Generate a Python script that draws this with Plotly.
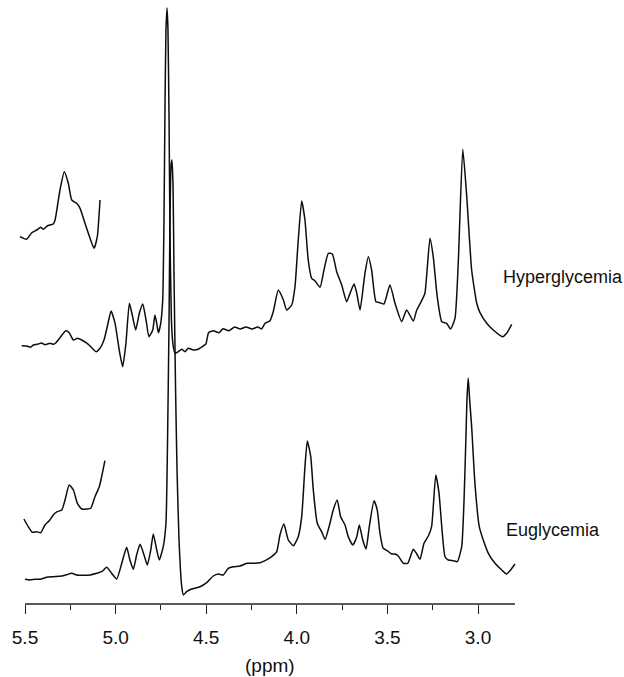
import plotly.graph_objects as go

# ---------------- data (chemical shift in ppm, intensity in arbitrary units) ----------------
hyper_ppm = [5.518, 5.491, 5.469, 5.454, 5.432, 5.408, 5.390, 5.362, 5.344, 5.329, 5.303, 5.275,
             5.256, 5.233, 5.211, 5.187, 5.163, 5.141, 5.108, 5.086, 5.064, 5.046, 5.025, 5.003,
             4.980, 4.961, 4.943, 4.924, 4.906, 4.889, 4.869, 4.850, 4.832, 4.816, 4.795, 4.783,
             4.773, 4.764, 4.751, 4.740, 4.733, 4.727, 4.722, 4.716, 4.711, 4.705, 4.700, 4.692,
             4.683, 4.672, 4.654, 4.635, 4.617, 4.599, 4.571, 4.544, 4.534, 4.502, 4.487, 4.460,
             4.429, 4.407, 4.375, 4.343, 4.313, 4.280, 4.247, 4.216, 4.195, 4.175, 4.148, 4.130,
             4.102, 4.074, 4.056, 4.028, 4.010, 3.992, 3.973, 3.955, 3.937, 3.918, 3.900, 3.872,
             3.850, 3.826, 3.804, 3.780, 3.752, 3.725, 3.703, 3.684, 3.669, 3.651, 3.624, 3.605,
             3.587, 3.563, 3.541, 3.519, 3.486, 3.458, 3.421, 3.394, 3.357, 3.338, 3.311, 3.293,
             3.265, 3.247, 3.225, 3.200, 3.173, 3.151, 3.127, 3.109, 3.084, 3.062, 3.035, 3.007,
             2.989, 2.952, 2.916, 2.864, 2.842, 2.814]
hyper_int = [259.3, 259.0, 257.7, 260.0, 260.7, 262.0, 260.3, 261.7, 260.7, 262.3, 268.3, 274.3,
             272.3, 265.0, 266.7, 265.0, 262.3, 259.0, 253.3, 256.7, 265.0, 278.3, 294.0, 281.7,
             255.0, 238.3, 261.7, 301.7, 288.3, 275.0, 291.7, 301.0, 285.0, 268.3, 275.0, 290.0,
             281.7, 272.3, 281.7, 305.0, 385.0, 505.0, 575.0, 597.0, 575.0, 485.0, 375.0, 285.0,
             260.0, 251.7, 253.3, 255.7, 253.3, 256.7, 255.0, 255.7, 257.0, 261.0, 272.3, 274.2,
             272.3, 276.2, 274.2, 278.0, 276.0, 278.0, 276.0, 278.0, 276.0, 281.7, 284.3, 293.3,
             315.0, 305.0, 295.0, 300.0, 318.3, 365.0, 404.0, 385.0, 345.0, 326.7, 324.3, 317.7,
             335.0, 351.7, 351.0, 333.3, 320.0, 303.3, 313.3, 321.0, 311.7, 295.0, 331.7, 348.3,
             335.0, 303.3, 302.3, 301.0, 320.0, 301.7, 283.3, 295.0, 284.0, 295.0, 304.3, 311.7,
             366.7, 348.3, 308.3, 283.3, 281.7, 276.0, 286.7, 341.7, 455.7, 408.3, 335.0, 301.7,
             292.3, 281.7, 275.0, 268.3, 271.7, 280.7]

hyper_inset_ppm = [5.528, 5.491, 5.463, 5.435, 5.413, 5.399, 5.377, 5.362, 5.344, 5.334, 5.307,
                   5.283, 5.261, 5.242, 5.215, 5.196, 5.169, 5.141, 5.119, 5.101, 5.086]
hyper_inset_int = [368.3, 365.7, 372.3, 375.0, 377.7, 375.7, 379.0, 380.0, 381.0, 385.0, 415.0,
                   433.3, 421.7, 405.0, 401.7, 396.7, 381.7, 366.7, 356.7, 368.3, 405.0]

eu_ppm = [5.500, 5.472, 5.445, 5.417, 5.380, 5.344, 5.297, 5.270, 5.242, 5.215, 5.178, 5.141,
          5.104, 5.077, 5.049, 5.022, 4.994, 4.966, 4.939, 4.921, 4.902, 4.884, 4.865, 4.843,
          4.825, 4.806, 4.792, 4.773, 4.759, 4.737, 4.722, 4.714, 4.705, 4.700, 4.694, 4.689,
          4.683, 4.678, 4.669, 4.661, 4.650, 4.635, 4.626, 4.608, 4.580, 4.534, 4.497, 4.461,
          4.433, 4.406, 4.378, 4.350, 4.313, 4.276, 4.240, 4.203, 4.175, 4.139, 4.111, 4.093,
          4.071, 4.047, 4.019, 3.992, 3.973, 3.955, 3.942, 3.923, 3.909, 3.887, 3.863, 3.844,
          3.817, 3.799, 3.777, 3.758, 3.734, 3.716, 3.691, 3.669, 3.655, 3.636, 3.618, 3.600,
          3.574, 3.556, 3.541, 3.523, 3.501, 3.476, 3.458, 3.440, 3.412, 3.388, 3.357, 3.338,
          3.320, 3.298, 3.274, 3.256, 3.233, 3.215, 3.200, 3.182, 3.164, 3.136, 3.114, 3.090,
          3.077, 3.066, 3.061, 3.054, 3.046, 3.035, 3.017, 2.993, 2.971, 2.943, 2.906, 2.869,
          2.842, 2.820, 2.796]
eu_int = [25.7, 25.0, 25.7, 25.7, 27.7, 28.3, 29.0, 30.3, 31.7, 30.0, 29.7, 30.0,
          31.7, 33.3, 37.7, 31.7, 26.0, 41.7, 57.7, 45.0, 35.7, 50.0, 60.7, 50.0,
          40.0, 55.0, 71.0, 55.0, 45.0, 58.3, 82.0, 155.0, 285.0, 385.0, 440.0, 445.0,
          420.0, 335.0, 215.0, 135.0, 65.0, 18.3, 10.0, 13.3, 16.0, 18.3, 22.3, 29.0,
          31.0, 30.0, 36.7, 38.3, 39.0, 41.7, 41.7, 42.3, 44.3, 48.3, 53.3, 70.0,
          81.0, 65.0, 59.3, 68.3, 88.3, 138.3, 164.0, 148.3, 115.0, 81.7, 73.3, 65.7,
          81.7, 95.0, 105.0, 88.3, 80.0, 68.3, 60.0, 68.3, 80.0, 65.0, 56.0, 78.3,
          104.3, 95.0, 71.7, 56.7, 54.3, 51.0, 51.0, 49.0, 41.7, 41.7, 55.7, 51.0,
          45.7, 61.7, 69.0, 78.3, 130.0, 111.7, 78.3, 48.3, 45.0, 44.3, 43.3, 58.3,
          105.0, 171.7, 205.0, 227.0, 205.0, 178.3, 121.7, 78.3, 65.0, 51.7, 41.7, 35.0,
          31.0, 35.0, 41.0]

eu_inset_ppm = [5.506, 5.482, 5.460, 5.435, 5.413, 5.390, 5.366, 5.344, 5.322, 5.297, 5.279,
                5.256, 5.233, 5.211, 5.187, 5.159, 5.137, 5.114, 5.090, 5.077, 5.059]
eu_inset_int = [86.0, 78.3, 72.7, 73.3, 72.3, 80.0, 84.3, 90.0, 93.3, 95.0, 105.0,
                120.0, 115.0, 101.7, 96.0, 96.0, 96.7, 108.3, 118.3, 128.3, 144.3]

tick_vals = [5.5, 5.0, 4.5, 4.0, 3.5, 3.0]
tick_text = ["5.5", "5.0", "4.5", "4.0", "3.5", "3.0"]
series_labels = ["Hyperglycemia", "Euglycemia"]
axis_label = "(ppm)"

# ---------------- figure ----------------
FONT = "Liberation Sans, Arial, Helvetica, sans-serif"
LINE = dict(color="#0d0d0d", width=1.5, shape="spline", smoothing=0.5)

fig = go.Figure()
for xs, ys in [(hyper_ppm, hyper_int), (hyper_inset_ppm, hyper_inset_int),
               (eu_ppm, eu_int), (eu_inset_ppm, eu_inset_int)]:
    fig.add_trace(go.Scatter(x=xs, y=ys, mode="lines", line=LINE, hoverinfo="skip"))

# axis baseline from 5.5 to the end of the spectra
fig.add_shape(type="line", xref="x", yref="paper", x0=5.5, x1=2.796, y0=0, y1=0,
              line=dict(color="#222222", width=1.3))

fig.add_annotation(x=2.873, y=328, xref="x", yref="y", text=series_labels[0],
                   showarrow=False, xanchor="left", yanchor="middle",
                   font=dict(family=FONT, size=18, color="#111111"))
fig.add_annotation(x=2.856, y=75, xref="x", yref="y", text=series_labels[1],
                   showarrow=False, xanchor="left", yanchor="middle",
                   font=dict(family=FONT, size=18, color="#111111"))
fig.add_annotation(x=4.148, y=-0.1026, xref="x", yref="paper", text=axis_label,
                   showarrow=False, xanchor="center", yanchor="middle",
                   font=dict(family=FONT, size=19, color="#111111"))

fig.update_xaxes(range=[5.53311, 2.79028], showline=False, showgrid=False, zeroline=False,
                 tickmode="array", tickvals=tick_vals, ticktext=tick_text,
                 ticks="outside", ticklen=9, tickwidth=1.2, tickcolor="#222222",
                 ticklabelstandoff=7,
                 tickfont=dict(family=FONT, size=19, color="#111111"),
                 minor=dict(tickmode="array", tickvals=[5.25, 4.75, 4.25, 3.75, 3.25],
                            ticks="outside", ticklen=5, tickwidth=1.2, tickcolor="#222222",
                            showgrid=False))
fig.update_yaxes(range=[1, 605], visible=False)

fig.update_layout(width=624, height=677, margin=dict(l=19, r=108, t=0, b=73),
                  paper_bgcolor="white", plot_bgcolor="white", showlegend=False,
                  hovermode=False)

fig.write_html("out.html", config={"displayModeBar": False})
